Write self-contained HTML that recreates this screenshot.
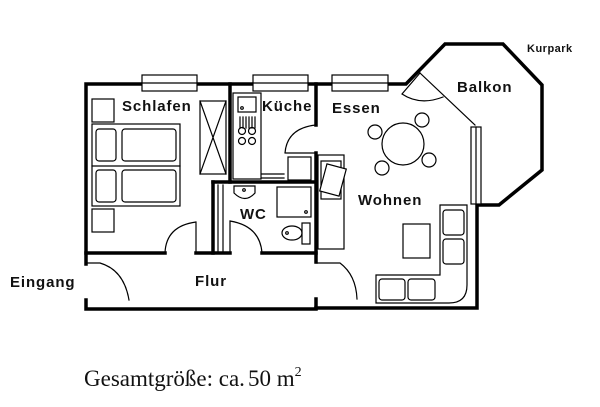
<!DOCTYPE html>
<html><head><meta charset="utf-8"><style>
html,body{margin:0;padding:0;background:#fff;width:600px;height:407px;overflow:hidden}
svg{display:block}
.l{font-family:"Liberation Sans","DejaVu Sans",sans-serif;font-weight:bold;font-size:15px;letter-spacing:0.9px;fill:#111}
</style></head><body>
<svg width="600" height="407" viewBox="0 0 600 407" xmlns="http://www.w3.org/2000/svg">
<g fill="none" stroke="#000" stroke-linecap="square">
<g stroke-width="3.5">
<path d="M86,264 V84 H406 L445,44 H503 L542,85 V170 L499,205 H477 V308 H316"/>
<path d="M316,299 V308"/>
<path d="M86,300 V309 H316"/>
<path d="M316,84 V125"/>
<path d="M316,153 V262"/>
<path d="M230,84 V182"/>
<path d="M213,182 H316"/>
<path d="M213,182 V253"/>
<path d="M86,253 H165"/>
<path d="M196,253 H230"/>
<path d="M262,253 H316"/>
</g>
<g stroke-width="1.2">
<rect x="142" y="75" width="55" height="16" fill="#fff"/>
<line x1="142" y1="83" x2="197" y2="83"/>
<rect x="253" y="75" width="55" height="16" fill="#fff"/>
<line x1="253" y1="83" x2="308" y2="83"/>
<rect x="332" y="75" width="56" height="16" fill="#fff"/>
<line x1="332" y1="83" x2="388" y2="83"/>
<rect x="471" y="127" width="10" height="77" fill="#fff"/>
<line x1="476" y1="127" x2="476" y2="204"/>
<path d="M196,253 V222 M196,222 Q166,226 165,253"/>
<path d="M230,253 V221 M230,221 Q260,226 262,253"/>
<path d="M316,153 H285 M285,153 Q287,128 316,125"/>
<path d="M86,263 H100 Q124,270 129,300"/>
<path d="M316,263 H340 Q356,275 357,299"/>
<path d="M420,73 L475,125"/>
<path d="M420,73 L402,94 Q420,106 443,97"/>
<rect x="92" y="99" width="22" height="23"/>
<rect x="92" y="124" width="88" height="82"/>
<line x1="92" y1="166" x2="180" y2="166"/>
<rect x="96" y="129" width="20" height="32" rx="3"/>
<rect x="122" y="129" width="54" height="32" rx="3"/>
<rect x="96" y="170" width="20" height="32" rx="3"/>
<rect x="122" y="170" width="54" height="32" rx="3"/>
<rect x="92" y="209" width="22" height="23"/>
<rect x="200" y="101" width="26" height="73"/>
<path d="M200,101 L226,174 M226,101 L200,174"/>
<rect x="233" y="93" width="28" height="86"/>
<rect x="238" y="97" width="18" height="15"/>
<circle cx="242" cy="108" r="1.3"/>
<path d="M240,117 V128 M243,117 V128 M246,117 V128 M249,117 V128 M252,117 V128 M255,117 V128"/>
<circle cx="242" cy="131" r="3.5"/><circle cx="252" cy="131" r="3.5"/>
<circle cx="242" cy="141" r="3.5"/><circle cx="252" cy="141" r="3.5"/>
<path d="M262,174 H284 M262,178 H284"/>
<rect x="288" y="157" width="23" height="23"/>
<path d="M218,185 V253 M223,185 V253"/>
<path d="M234,186 H255 V193 Q245,204 234,193 Z"/>
<circle cx="244" cy="190" r="1.3"/>
<rect x="277" y="187" width="34" height="30"/>
<circle cx="306" cy="212" r="1.3"/>
<ellipse cx="292" cy="233" rx="10" ry="7"/>
<circle cx="287" cy="233" r="1.3"/>
<rect x="302" y="223" width="8" height="21"/>
<circle cx="403" cy="144" r="21"/>
<circle cx="375" cy="132" r="7"/>
<circle cx="422" cy="120" r="7"/>
<circle cx="429" cy="160" r="7"/>
<circle cx="382" cy="168" r="7"/>
<rect x="318" y="155" width="26" height="94"/>
<rect x="321" y="161" width="20" height="38"/>
<rect x="323" y="166" width="20" height="28" transform="rotate(15 333 180)" fill="#fff"/>
<rect x="403" y="224" width="27" height="34"/>
<path d="M440,205 H467 V285 Q467,303 449,303 H376 V275 H440 Z"/>
<rect x="443" y="210" width="21" height="25" rx="3"/>
<rect x="443" y="239" width="21" height="25" rx="3"/>
<rect x="379" y="279" width="26" height="21" rx="3"/>
<rect x="408" y="279" width="27" height="21" rx="3"/>
</g>
</g>
<text class="l" x="122" y="111">Schlafen</text>
<text class="l" x="262" y="111">Küche</text>
<text class="l" x="332" y="113">Essen</text>
<text class="l" x="457" y="92">Balkon</text>
<text class="l" x="527" y="52" style="font-size:11px;letter-spacing:0.5px">Kurpark</text>
<text class="l" x="358" y="205">Wohnen</text>
<text class="l" x="240" y="219">WC</text>
<text class="l" x="195" y="286">Flur</text>
<text class="l" x="10" y="287">Eingang</text>
<text x="84" y="386" style="font-family:'Liberation Serif',serif;font-size:23px;fill:#111">Gesamtgröße: ca.<tspan dx="3">50</tspan><tspan dx="0"> m</tspan><tspan dy="-10" style="font-size:14px">2</tspan></text>
</svg>
</body></html>
